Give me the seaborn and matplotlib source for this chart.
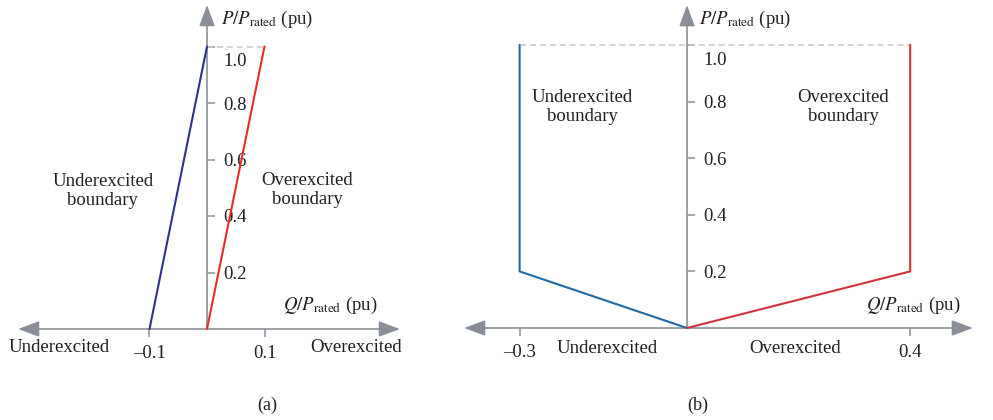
import numpy as np
import pandas as pd
import matplotlib
matplotlib.use("Agg")
import matplotlib.pyplot as plt
import seaborn as sns

sns.set_style("white")
plt.rcParams['font.family'] = ['Liberation Serif', 'DejaVu Serif']
plt.rcParams['mathtext.fontset'] = 'stix'

# panel (a): constant power factor boundaries
a_under_q = [-0.1, 0.0]
a_under_p = [0.0, 1.0]
a_over_q = [0.0, 0.1]
a_over_p = [0.0, 1.0]
a_rated_q = [0.0, 0.1]
a_xticks = [-0.1, 0.1]
a_xticklabels = ['\u20130.1', '0.1']

# panel (b): reactive power boundaries
b_under_q = [-0.3, -0.3, 0.0]
b_under_p = [1.0, 0.2, 0.0]
b_over_q = [0.0, 0.4, 0.4]
b_over_p = [0.0, 0.2, 1.0]
b_rated_q = [-0.3, 0.4]
b_xticks = [-0.3, 0.4]
b_xticklabels = ['\u20130.3', '0.4']

p_ticks = [0.2, 0.4, 0.6, 0.8, 1.0]
p_ticklabels = ['0.2', '0.4', '0.6', '0.8', '1.0']

W, H = 993, 420
AX_GREY = '#8a8f97'
TXT = '#231f20'
FS = 13.5

fig = plt.figure(figsize=(W / 100, H / 100), dpi=100)


def make_axes(px0, px1, ox, oy, sx, sy):
    # axes placed in pixels, limits chosen so data->pixel mapping matches
    ax = fig.add_axes([px0 / W, 0, (px1 - px0) / W, 1])
    ax.set_xlim((px0 - ox) / sx, (px1 - ox) / sx)
    ax.set_ylim((oy - H) / sy, oy / sy)
    for s in ax.spines.values():
        s.set_visible(False)
    ax.spines['left'].set_position('zero')
    ax.spines['bottom'].set_position('zero')
    return ax


def decorate(ax, xl, xr, ytop, xticks, xticklabels):
    ax.annotate('', xy=(xr, 0), xytext=(xl, 0),
                arrowprops=dict(arrowstyle='<|-|>,head_length=0.65,head_width=0.24',
                                color=AX_GREY, lw=1.2, mutation_scale=20,
                                shrinkA=0, shrinkB=0), zorder=1)
    ax.annotate('', xy=(0, ytop), xytext=(0, 0),
                arrowprops=dict(arrowstyle='-|>,head_length=0.65,head_width=0.24',
                                color=AX_GREY, lw=1.2, mutation_scale=20,
                                shrinkA=0, shrinkB=0), zorder=1)
    ax.set_xticks(xticks)
    ax.set_xticklabels(xticklabels)
    ax.set_yticks(p_ticks)
    ax.set_yticklabels(p_ticklabels)
    ax.tick_params(axis='x', direction='out', length=6, width=1.1, color=AX_GREY,
                   pad=5.5, labelsize=FS, labelcolor=TXT, bottom=True)
    ax.tick_params(axis='y', direction='in', length=6, width=1.1, color=AX_GREY,
                   pad=-11.5, labelsize=FS, labelcolor=TXT, left=True)
    for lbl in ax.get_yticklabels():
        lbl.set_horizontalalignment('left')
    top = ax.get_yticklabels()[-1]
    top.set_verticalalignment('top')
    top.set_transform(top.get_transform() +
                      matplotlib.transforms.ScaledTranslation(0, -5 / 72, fig.dpi_scale_trans))
    ax.set_xlabel('')
    ax.set_ylabel('')


# ---------- (a) ----------
ax = make_axes(0, 455, 207, 329, 575, 282.5)
ax.plot(a_rated_q, [1.0, 1.0], color='#c8c8c8', lw=1.1, ls=(0, (4, 2.5)), zorder=1)
sns.lineplot(x=a_under_q, y=a_under_p, ax=ax, color='#2e3192', lw=1.5,
             sort=False, estimator=None, zorder=3)
sns.lineplot(x=a_over_q, y=a_over_p, ax=ax, color='#ee2a2a', lw=1.5,
             sort=False, estimator=None, zorder=3)
decorate(ax, -0.3287, 0.3357, 1.147, a_xticks, a_xticklabels)
ax.text(-0.181, 0.488, 'Underexcited\nboundary', ha='center', va='center', fontsize=FS, color=TXT)
ax.text(0.174, 0.492, 'Overexcited\nboundary', ha='center', va='center', fontsize=FS, color=TXT)
ax.text(-0.257, -0.067, 'Underexcited', ha='center', va='center', fontsize=FS, color=TXT)
ax.text(0.259, -0.067, 'Overexcited', ha='center', va='center', fontsize=FS, color=TXT)
ax.text(0.214, 0.085, r'$Q/P_{\mathrm{rated}}$ (pu)', ha='center', va='center', fontsize=FS, color=TXT)
ax.text(0.104, 1.097, r'$P/P_{\mathrm{rated}}$ (pu)', ha='center', va='center', fontsize=FS, color=TXT)
ax.text(0.104, -0.269, '(a)', ha='center', va='center', fontsize=13, color=TXT)

# ---------- (b) ----------
ax = make_axes(455, 993, 687, 328, 558, 283)
ax.plot(b_rated_q, [1.0, 1.0], color='#c8c8c8', lw=1.1, ls=(0, (4, 2.5)), zorder=1)
sns.lineplot(x=b_under_q, y=b_under_p, ax=ax, color='#1f6aa5', lw=1.5,
             sort=False, estimator=None, zorder=3)
sns.lineplot(x=b_over_q, y=b_over_p, ax=ax, color='#d1333b', lw=1.5,
             sort=False, estimator=None, zorder=3)
decorate(ax, -0.3996, 0.5125, 1.141, b_xticks, b_xticklabels)
ax.text(-0.188, 0.781, 'Underexcited\nboundary', ha='center', va='center', fontsize=FS, color=TXT)
ax.text(0.280, 0.781, 'Overexcited\nboundary', ha='center', va='center', fontsize=FS, color=TXT)
ax.text(-0.143, -0.071, 'Underexcited', ha='center', va='center', fontsize=FS, color=TXT)
ax.text(0.194, -0.071, 'Overexcited', ha='center', va='center', fontsize=FS, color=TXT)
ax.text(0.405, 0.081, r'$Q/P_{\mathrm{rated}}$ (pu)', ha='center', va='center', fontsize=FS, color=TXT)
ax.text(0.104, 1.092, r'$P/P_{\mathrm{rated}}$ (pu)', ha='center', va='center', fontsize=FS, color=TXT)
ax.text(0.0197, -0.272, '(b)', ha='center', va='center', fontsize=13, color=TXT)

fig.savefig('out.png', dpi=100)
